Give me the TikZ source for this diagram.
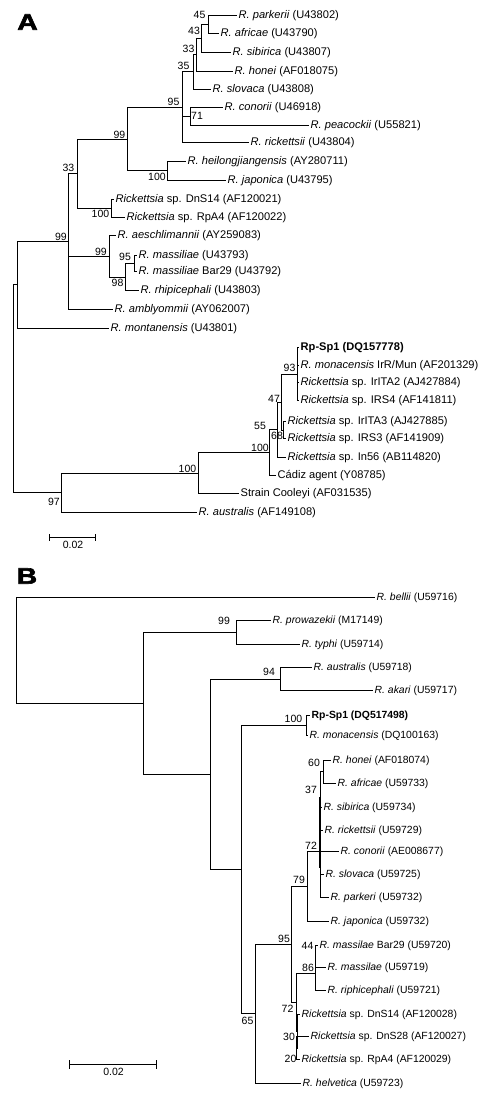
\documentclass[tikz,border=0pt]{standalone}
\usepackage{fontspec}
\setmainfont{Liberation Sans}
\newfontfamily\panelfont{Liberation Sans}[UprightFont=*, BoldFont=* Bold, BoldFeatures={FakeBold=2.5}]
\newcommand\tSnap[3]{\pgfmathsetmacro\tSx{floor(#2)+0.5}\pgfmathsetmacro\tSy{floor(#3)+0.5}\coordinate (#1) at (\tSx,\tSy);}
\newcommand\tLeaf[5]{\tSnap{#2}{#3}{#4} \node[#1] (#2-t) at (#2) {#5};}
\newcommand\tNode[3]{\tSnap{#1}{#2}{#3}}
\newcommand\tVert[3]{\draw[br] (#1 |- #2) -- (#1 |- #3);}
\newcommand\tEdge[2]{\draw[br] (#1 |- #2) -- (#2);}
\newcommand\tBoot[4]{\node[bs] (#1) at (#2,#3) {#4};}
\begin{document}
\begin{tikzpicture}[x=1pt,y=-1pt,
  br/.style={line width=1.5pt, line cap=rect},
  labA/.style={anchor=west, inner sep=2pt, font=\fontsize{11.1}{13}\selectfont},
  labB/.style={anchor=west, inner sep=2pt, font=\fontsize{10.4}{12}\selectfont},
  bs/.style={inner sep=0pt, font=\fontsize{10.5}{12}\selectfont},
  panel/.style={inner sep=0pt, font=\fontsize{22.5}{26}\panelfont\bfseries, xscale=1.25}]
\useasboundingbox (0,0) rectangle (480,1097);

\node[panel] (pA) at (27.5,22) {A};
\node[panel] (pB) at (27,576) {B};

% ================= TREE A =================
\tLeaf{labA}{parkerii}{236}{15}{\textit{R. parkerii} (U43802)}
\tLeaf{labA}{africaeA}{218}{33.3}{\textit{R. africae} (U43790)}
\tLeaf{labA}{sibiricaA}{230}{52.3}{\textit{R. sibirica} (U43807)}
\tLeaf{labA}{honeiA}{232}{71}{\textit{R. honei} (AF018075)}
\tLeaf{labA}{slovacaA}{210}{89}{\textit{R. slovaca} (U43808)}
\tLeaf{labA}{conoriiA}{222}{107.3}{\textit{R. conorii} (U46918)}
\tLeaf{labA}{peacockii}{308}{125}{\textit{R. peacockii} (U55821)}
\tLeaf{labA}{rickettsiiA}{248}{142.7}{\textit{R. rickettsii} (U43804)}
\tLeaf{labA}{heilong}{185}{161.7}{\textit{R. heilongjiangensis} (AY280711)}
\tLeaf{labA}{japonicaA}{225}{180}{\textit{R. japonica} (U43795)}
\tLeaf{labA}{dnsA}{113}{199.3}{\textit{Rickettsia} sp. DnS14 (AF120021)}
\tLeaf{labA}{rpaA}{124}{217.3}{\textit{Rickettsia} sp. RpA4 (AF120022)}
\tLeaf{labA}{aesch}{115}{235}{\textit{R. aeschlimannii} (AY259083)}
\tLeaf{labA}{massA}{136}{255}{\textit{R. massiliae} (U43793)}
\tLeaf{labA}{barA}{136}{271.7}{\textit{R. massiliae} Bar29 (U43792)}
\tLeaf{labA}{rhipiA}{138}{290.7}{\textit{R. rhipicephali} (U43803)}
\tLeaf{labA}{amblyo}{112}{309.3}{\textit{R. amblyommii} (AY062007)}
\tLeaf{labA}{montan}{108}{328}{\textit{R. montanensis} (U43801)}
\tLeaf{labA}{rpspA}{298.5}{347.3}{\textbf{Rp-Sp1 (DQ157778)}}
\tLeaf{labA}{monacA}{298.5}{365}{\textit{R. monacensis} IrR/Mun (AF201329)}
\tLeaf{labA}{iritaB}{298.5}{382.7}{\textit{Rickettsia} sp. IrITA2 (AJ427884)}
\tLeaf{labA}{irsD}{298.5}{400.7}{\textit{Rickettsia} sp. IRS4 (AF141811)}
\tLeaf{labA}{iritaC}{285.5}{421.7}{\textit{Rickettsia} sp. IrITA3 (AJ427885)}
\tLeaf{labA}{irsC}{285.5}{438.3}{\textit{Rickettsia} sp. IRS3 (AF141909)}
\tLeaf{labA}{inF}{285.5}{457.3}{\textit{Rickettsia} sp. In56 (AB114820)}
\tLeaf{labA}{cadiz}{275}{475.7}{Cádiz agent (Y08785)}
\tLeaf{labA}{cooleyi}{238}{493.3}{Strain Cooleyi (AF031535)}
\tLeaf{labA}{australisA}{196.7}{512.7}{\textit{R. australis} (AF149108)}

\tNode{n45}{208}{24.15}
\tNode{n43}{201}{38.2}
\tNode{n33s}{196}{54.6}
\tNode{n35}{193}{71.8}
\tNode{n71}{190}{116.2}
\tNode{n95a}{182}{107.2}
\tNode{n100b}{167}{170.8}
\tNode{n99b}{127}{139}
\tNode{n100c}{111}{208.3}
\tNode{n33a}{77}{173.7}
\tNode{n95m}{134}{263.3}
\tNode{n98}{125}{277}
\tNode{n99c}{109}{256}
\tNode{n99a}{68}{241.5}
\tNode{nAone}{17}{284.8}
\tNode{n93}{297}{374}
\tNode{n68}{283.5}{430}
\tNode{n47}{281.5}{402}
\tNode{n55}{277}{429.7}
\tNode{n100i}{269.3}{452.7}
\tNode{n100o}{198.3}{473}
\tNode{n97}{61.7}{492.9}
\tNode{rA}{13}{388.85}

\tVert{n45}{parkerii}{africaeA}\tEdge{n45}{parkerii}\tEdge{n45}{africaeA}
\tVert{n43}{n45}{sibiricaA}\tEdge{n43}{n45}\tEdge{n43}{sibiricaA}
\tVert{n33s}{n43}{honeiA}\tEdge{n33s}{n43}\tEdge{n33s}{honeiA}
\tVert{n35}{n33s}{slovacaA}\tEdge{n35}{n33s}\tEdge{n35}{slovacaA}
\tVert{n71}{conoriiA}{peacockii}\tEdge{n71}{conoriiA}\tEdge{n71}{peacockii}
\tVert{n95a}{n35}{rickettsiiA}\tEdge{n95a}{n35}\tEdge{n95a}{n71}\tEdge{n95a}{rickettsiiA}
\tVert{n100b}{heilong}{japonicaA}\tEdge{n100b}{heilong}\tEdge{n100b}{japonicaA}
\tVert{n99b}{n95a}{n100b}\tEdge{n99b}{n95a}\tEdge{n99b}{n100b}
\tVert{n100c}{dnsA}{rpaA}\tEdge{n100c}{dnsA}\tEdge{n100c}{rpaA}
\tVert{n33a}{n99b}{n100c}\tEdge{n33a}{n99b}\tEdge{n33a}{n100c}
\tVert{n95m}{massA}{barA}\tEdge{n95m}{massA}\tEdge{n95m}{barA}
\tVert{n98}{n95m}{rhipiA}\tEdge{n98}{n95m}\tEdge{n98}{rhipiA}
\tVert{n99c}{aesch}{n98}\tEdge{n99c}{aesch}\tEdge{n99c}{n98}
\tVert{n99a}{n33a}{amblyo}\tEdge{n99a}{n33a}\tEdge{n99a}{n99c}\tEdge{n99a}{amblyo}
\tVert{nAone}{n99a}{montan}\tEdge{nAone}{n99a}\tEdge{nAone}{montan}
\tVert{n93}{rpspA}{irsD}\tEdge{n93}{rpspA}\tEdge{n93}{monacA}\tEdge{n93}{iritaB}\tEdge{n93}{irsD}
\tVert{n68}{iritaC}{irsC}\tEdge{n68}{iritaC}\tEdge{n68}{irsC}
\tVert{n47}{n93}{n68}\tEdge{n47}{n93}\tEdge{n47}{n68}
\tVert{n55}{n47}{inF}\tEdge{n55}{n47}\tEdge{n55}{inF}
\tVert{n100i}{n55}{cadiz}\tEdge{n100i}{n55}\tEdge{n100i}{cadiz}
\tVert{n100o}{n100i}{cooleyi}\tEdge{n100o}{n100i}\tEdge{n100o}{cooleyi}
\tVert{n97}{n100o}{australisA}\tEdge{n97}{n100o}\tEdge{n97}{australisA}
\tVert{rA}{nAone}{n97}\tEdge{rA}{nAone}\tEdge{rA}{n97}

\tBoot{bA1}{199.5}{15}{45}
\tBoot{bA2}{194}{31}{43}
\tBoot{bA3}{188.5}{48.5}{33}
\tBoot{bA4}{183.5}{66}{35}
\tBoot{bA5}{173.5}{101.5}{95}
\tBoot{bA6}{197}{116}{71}
\tBoot{bA7}{119.5}{134.5}{99}
\tBoot{bA8}{157}{177}{100}
\tBoot{bA9}{68.5}{168}{33}
\tBoot{bA10}{100.5}{214}{100}
\tBoot{bA11}{61}{236.5}{99}
\tBoot{bA12}{101}{252}{99}
\tBoot{bA13}{125}{257}{95}
\tBoot{bA14}{117.5}{283}{98}
\tBoot{bA15}{289.5}{368}{93}
\tBoot{bA16}{274}{398.5}{47}
\tBoot{bA17}{260}{426}{55}
\tBoot{bA18}{277}{436}{68}
\tBoot{bA19}{260}{447.5}{100}
\tBoot{bA20}{187.5}{469}{100}
\tBoot{bA21}{54}{502}{97}

% scale bar A
\coordinate (saL) at (49.5,537.5);
\coordinate (saR) at (95.5,537.5);
\draw[br] (saL) -- (saR);
\draw[br] ([yshift=-3pt]saL) -- ([yshift=3pt]saL);
\draw[br] ([yshift=-3pt]saR) -- ([yshift=3pt]saR);
\node[bs] (saT) at (73,544.5) {0.02};

% ================= TREE B =================
\tLeaf{labB}{bellii}{374}{597.3}{\textit{R. bellii} (U59716)}
\tLeaf{labB}{prowaz}{270}{620.7}{\textit{R. prowazekii} (M17149)}
\tLeaf{labB}{typhi}{299.3}{644}{\textit{R. typhi} (U59714)}
\tLeaf{labB}{australisB}{311.7}{667.3}{\textit{R. australis} (U59718)}
\tLeaf{labB}{akari}{372.7}{690.7}{\textit{R. akari} (U59717)}
\tLeaf{labB}{rpspB}{309}{715}{\textbf{Rp-Sp1 (DQ517498)}}
\tLeaf{labB}{monacB}{307.5}{735}{\textit{R. monacensis} (DQ100163)}
\tLeaf{labB}{honeiB}{330}{760}{\textit{R. honei} (AF018074)}
\tLeaf{labB}{africaeB}{335}{783.3}{\textit{R. africae} (U59733)}
\tLeaf{labB}{sibiricaB}{321.5}{807.3}{\textit{R. sibirica} (U59734)}
\tLeaf{labB}{rickettsiiB}{322.5}{830.7}{\textit{R. rickettsii} (U59729)}
\tLeaf{labB}{conoriiB}{338.3}{851.7}{\textit{R. conorii} (AE008677)}
\tLeaf{labB}{slovacaB}{323.5}{874}{\textit{R. slovaca} (U59725)}
\tLeaf{labB}{parkeriB}{328.3}{897.3}{\textit{R. parkeri} (U59732)}
\tLeaf{labB}{japonicaB}{328.3}{921.7}{\textit{R. japonica} (U59732)}
\tLeaf{labB}{barB}{317.5}{945}{\textit{R. massilae} Bar29 (U59720)}
\tLeaf{labB}{massB}{325}{967.7}{\textit{R. massilae} (U59719)}
\tLeaf{labB}{riphiB}{325}{990.7}{\textit{R. riphicephali} (U59721)}
\tLeaf{labB}{dnsB}{299}{1014.3}{\textit{Rickettsia} sp. DnS14 (AF120028)}
\tLeaf{labB}{dnsBB}{308}{1036.7}{\textit{Rickettsia} sp. DnS28 (AF120027)}
\tLeaf{labB}{rpaB}{299.5}{1059.3}{\textit{Rickettsia} sp. RpA4 (AF120029)}
\tLeaf{labB}{helvet}{300}{1083.3}{\textit{R. helvetica} (U59723)}

\tNode{rB}{16.7}{650}
\tNode{nBone}{143.3}{703}
\tNode{n99B}{236}{632.3}
\tNode{nBtwo}{210}{774}
\tNode{n94}{280}{679}
\tNode{nBthree}{241.7}{869}
\tNode{n100B}{306.7}{725}
\tNode{n65}{255.7}{1013}
\tNode{n95B}{291.7}{944.3}
\tNode{n79}{307.3}{886.7}
\tNode{nAsev}{296.5}{1002.5}
\tNode{n86}{315}{973.5}
\tNode{n44}{315}{956.3}
\tNode{nBthirty}{297.3}{1031}
\tNode{nCtwenty}{296.5}{1048}
\tNode{n60}{323.3}{771.7}
\tNode{n37}{320.7}{834.5}
\tNode{n72u}{319.6}{851.7}
\tNode{n72top}{319.6}{797}
\tNode{n72bot}{319.6}{867}

\tVert{rB}{bellii}{nBone}\tEdge{rB}{bellii}\tEdge{rB}{nBone}
\tVert{nBone}{n99B}{nBtwo}\tEdge{nBone}{n99B}\tEdge{nBone}{nBtwo}
\tVert{n99B}{prowaz}{typhi}\tEdge{n99B}{prowaz}\tEdge{n99B}{typhi}
\tVert{nBtwo}{n94}{nBthree}\tEdge{nBtwo}{n94}\tEdge{nBtwo}{nBthree}
\tVert{n94}{australisB}{akari}\tEdge{n94}{australisB}\tEdge{n94}{akari}
\tVert{nBthree}{n100B}{n65}\tEdge{nBthree}{n100B}\tEdge{nBthree}{n65}
\tVert{n100B}{rpspB}{monacB}\tEdge{n100B}{rpspB}\tEdge{n100B}{monacB}
\tVert{n65}{n95B}{helvet}\tEdge{n65}{n95B}\tEdge{n65}{helvet}
\tVert{n95B}{n79}{nAsev}\tEdge{n95B}{n79}\tEdge{n95B}{nAsev}
\tVert{n79}{n72u}{japonicaB}\tEdge{n79}{n72u}\tEdge{n79}{japonicaB}
\draw[br] (n72top) -- (n72bot);
\tEdge{n72u}{conoriiB}
\tVert{n37}{n60}{parkeriB}\tEdge{n37}{n60}\tEdge{n37}{sibiricaB}\tEdge{n37}{rickettsiiB}\tEdge{n37}{slovacaB}\tEdge{n37}{parkeriB}
\tVert{n60}{honeiB}{africaeB}\tEdge{n60}{honeiB}\tEdge{n60}{africaeB}
\tVert{nAsev}{n86}{nBthirty}\tEdge{nAsev}{n86}\tEdge{nAsev}{nBthirty}
\tVert{n86}{n44}{riphiB}\tEdge{n86}{n44}\tEdge{n86}{riphiB}
\tVert{n44}{barB}{massB}\tEdge{n44}{barB}\tEdge{n44}{massB}
\tVert{nBthirty}{dnsB}{nCtwenty}\tEdge{nBthirty}{dnsB}\tEdge{nBthirty}{nCtwenty}
\tVert{nCtwenty}{dnsBB}{rpaB}\tEdge{nCtwenty}{dnsBB}\tEdge{nCtwenty}{rpaB}

\tBoot{bB1}{224}{621}{99}
\tBoot{bB2}{269}{672}{94}
\tBoot{bB3}{293.5}{719}{100}
\tBoot{bB4}{314}{763}{60}
\tBoot{bB5}{311}{790}{37}
\tBoot{bB6}{311}{845.5}{72}
\tBoot{bB7}{299}{879.5}{79}
\tBoot{bB8}{284}{939}{95}
\tBoot{bB9}{307.5}{945.5}{44}
\tBoot{bB10}{308}{967.5}{86}
\tBoot{bB11}{287.5}{1009}{72}
\tBoot{bB12}{247.5}{1021}{65}
\tBoot{bB13}{289}{1036.5}{30}
\tBoot{bB14}{290.5}{1059}{20}

% scale bar B
\coordinate (sbL) at (69.5,1064.5);
\coordinate (sbR) at (156.5,1064.5);
\draw[br] (sbL) -- (sbR);
\draw[br] ([yshift=-4pt]sbL) -- ([yshift=4pt]sbL);
\draw[br] ([yshift=-4pt]sbR) -- ([yshift=4pt]sbR);
\node[bs] (sbT) at (113.5,1071.7) {0.02};
\end{tikzpicture}
\end{document}
